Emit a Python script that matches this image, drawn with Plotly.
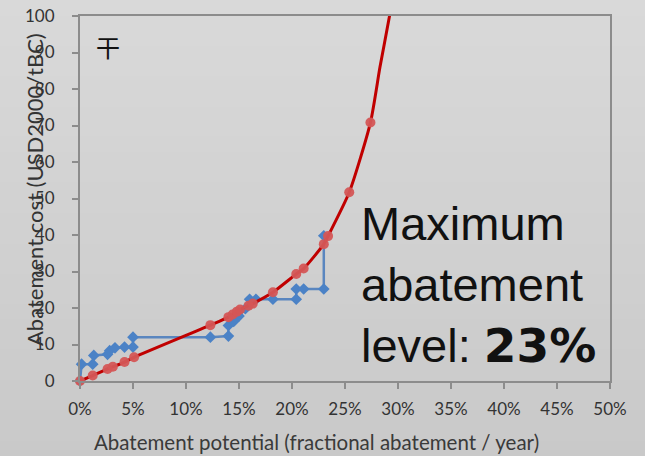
import plotly.graph_objects as go

# Blue step series (abatement potential fraction %, cost USD2000/tBC)
blue_x = [0.0, 0.15, 1.2, 1.3, 2.6, 2.8, 3.3, 4.2, 5.0, 5.0, 12.3, 14.0, 14.0, 14.5, 15.0, 15.6, 16.0, 16.6, 18.2, 20.4, 20.4, 21.1, 23.0, 23.0]
blue_y = [0.0, 4.6, 4.6, 7.0, 7.3, 8.3, 9.1, 9.3, 9.3, 12.0, 12.0, 12.3, 15.2, 16.3, 17.8, 19.8, 22.4, 22.4, 22.4, 22.4, 25.2, 25.2, 25.2, 39.8]

# Red fitted series markers
red_x = [0.0, 1.2, 2.6, 3.1, 4.2, 5.1, 12.3, 14.0, 14.4, 14.8, 15.1, 15.9, 16.3, 18.2, 20.4, 21.1, 23.0, 23.4, 25.4, 27.4]
red_y = [0.0, 1.5, 3.3, 3.9, 5.2, 6.5, 15.3, 17.5, 18.2, 19.0, 19.6, 20.6, 21.2, 24.3, 29.3, 30.8, 37.5, 39.7, 51.7, 70.8]

# Red fitted curve (extends beyond last marker)
curve_x = [0.0, 1.2, 2.6, 4.2, 5.1, 12.3, 14.0, 15.1, 16.3, 18.2, 20.4, 21.1, 23.0, 23.4, 25.4, 27.4, 28.3, 29.2, 29.6]
curve_y = [0.0, 1.5, 3.3, 5.2, 6.5, 15.3, 17.5, 19.6, 21.2, 24.3, 29.3, 30.8, 37.5, 39.7, 51.7, 70.8, 86.0, 100.0, 107.0]

x_ticks = [0, 5, 10, 15, 20, 25, 30, 35, 40, 45, 50]
x_tick_labels = [f"{v}%" for v in x_ticks]
y_ticks = [0, 10, 20, 30, 40, 50, 60, 70, 80, 90, 100]

W, H = 645, 456
L, R, T, B = 80, 35, 16, 75

fig = go.Figure()

# gradient background bands
n = 30
top_c = (217, 217, 217)
bot_c = (201, 201, 201)
pw = W - L - R
ph = H - T - B
for i in range(n):
    f = i / (n - 1)
    c = tuple(int(round(top_c[k] + (bot_c[k] - top_c[k]) * f)) for k in range(3))
    y0px = H * i / n
    y1px = H * (i + 1) / n + 1
    fig.add_shape(type="rect", xref="paper", yref="paper",
                  x0=(0 - L) / pw, x1=(W - L) / pw,
                  y0=(H - B - y1px) / ph, y1=(H - B - y0px) / ph,
                  line=dict(width=0), fillcolor=f"rgb{c}", layer="below")

fig.add_trace(go.Scatter(
    x=blue_x, y=blue_y, mode="lines+markers",
    line=dict(color="#5a86bf", width=2.5),
    marker=dict(symbol="diamond", size=9, color="#4b82c6", line=dict(width=0)),
    showlegend=False, cliponaxis=False))

fig.add_trace(go.Scatter(
    x=curve_x, y=curve_y, mode="lines",
    line=dict(color="#c00000", width=3, shape="spline", smoothing=0.6),
    showlegend=False))

fig.add_trace(go.Scatter(
    x=red_x, y=red_y, mode="markers",
    marker=dict(symbol="circle", size=10, color="rgba(212,86,86,0.95)", line=dict(width=0)),
    showlegend=False, cliponaxis=False))

axis_common = dict(showgrid=False, zeroline=False, showline=True, linecolor="#8c8c8c",
                   linewidth=2, mirror=True, ticks="outside", ticklen=6, tickwidth=2,
                   automargin=False,
                   tickcolor="#8c8c8c", tickfont=dict(family="Lato", size=17, color="#333333"))

fig.update_layout(
    width=W, height=H,
    margin=dict(l=L, r=R, t=T, b=B, autoexpand=False),
    paper_bgcolor="rgb(205,205,205)",
    plot_bgcolor="rgba(0,0,0,0)",
    xaxis=dict(range=[0, 50], tickvals=x_ticks, ticktext=x_tick_labels, ticklabelstandoff=6, **axis_common),
    yaxis=dict(range=[0, 100], tickvals=y_ticks, ticklabelstandoff=14, **axis_common),
)

fig.add_annotation(xref="paper", yref="paper", x=(316 - L) / pw, y=(H - B - 442) / ph,
                   text="Abatement potential (fractional abatement / year)", showarrow=False,
                   font=dict(family="Lato", size=20.5, color="#3a3a3a"), xanchor="center", yanchor="middle")
fig.add_annotation(xref="paper", yref="paper", x=(34 - L) / pw, y=(H - B - 190) / ph,
                   text="Abatement cost (USD2000/tBC)", showarrow=False, textangle=-90,
                   font=dict(family="Lato", size=22, color="#333333"), xanchor="center", yanchor="middle")
fig.add_annotation(xref="paper", yref="paper", x=(108 - L) / pw, y=(H - B - 47) / ph,
                   text="干", showarrow=False,
                   font=dict(family="Noto Sans CJK SC", size=24, color="#111111"), xanchor="center", yanchor="middle")
fig.add_annotation(xref="paper", yref="paper", x=(359 - L) / pw, y=(H - B - 285) / ph,
                   text="Maximum<br>abatement<br>level: <span style='font-family:DejaVu Sans'><b>23%</b></span>",
                   showarrow=False, align="left",
                   font=dict(family="Liberation Sans", size=47, color="#111111"), xanchor="left", yanchor="middle")

fig.write_html("out.html")
